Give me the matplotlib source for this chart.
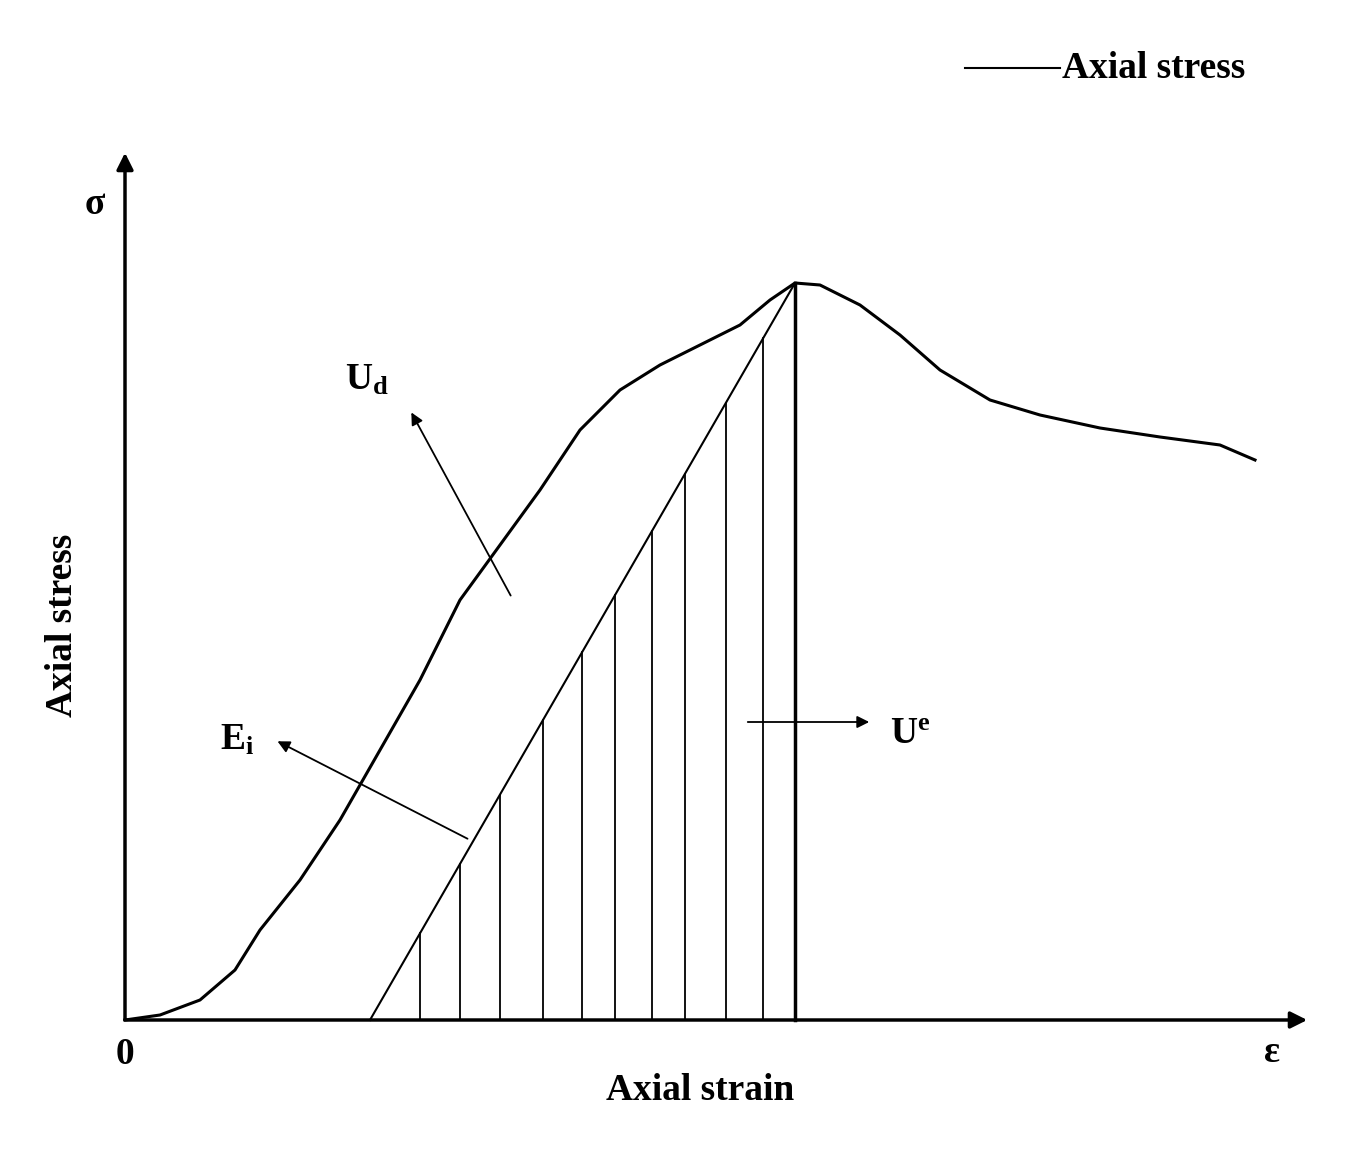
import matplotlib
matplotlib.use("Agg")
import matplotlib.pyplot as plt

curve_x = [125,160,200,235,260,300,340,380,420,460,500,540,580,620,660,700,740,770,795,820,860,900,940,990,1040,1100,1160,1220,1255]
curve_py = [1020,1015,1000,970,930,880,820,750,680,600,545,490,430,390,365,345,325,300,283,285,305,335,370,400,415,428,437,445,460]
hatch_x = [420,460,500,543,582,615,652,685,726,763]
unload_start, peak_x = 370, 795
base = 1020

plt.rcParams['font.family'] = ['Liberation Serif', 'DejaVu Serif']
plt.rcParams['mathtext.fontset'] = 'custom'
plt.rcParams['mathtext.rm'] = 'Liberation Serif'
plt.rcParams['mathtext.bf'] = 'Liberation Serif:bold'
plt.rcParams['mathtext.it'] = 'Liberation Serif:italic'
plt.rcParams['lines.solid_joinstyle'] = 'round'

fig = plt.figure(figsize=(13.46, 11.53), dpi=100)
ax = fig.add_axes([0, 0, 1, 1])
ax.set_xlim(0, 1346); ax.set_ylim(base - 1153, base)
ax.axis('off')

cy = [base - p for p in curve_py]
ax.plot(curve_x, cy, color='black', lw=2.2)
peak_y = cy[curve_x.index(peak_x)]
ax.plot([unload_start, peak_x], [0, peak_y], color='black', lw=1.5)
slope = peak_y / (peak_x - unload_start)
for hx in hatch_x:
    ax.plot([hx, hx], [0, slope * (hx - unload_start)], color='black', lw=1.3)
ax.plot([peak_x, peak_x], [0, peak_y], color='black', lw=2.5)

ax.annotate('', xy=(1310, 0), xytext=(122, 0),
            arrowprops=dict(arrowstyle='-|>', color='black', lw=2.5, mutation_scale=25))
ax.annotate('', xy=(125, base - 150), xytext=(125, -2),
            arrowprops=dict(arrowstyle='-|>', color='black', lw=2.5, mutation_scale=25))

fs = 27
ax.text(95, base - 205, 'σ', fontsize=fs, fontweight='bold', ha='center', va='center')
ax.text(125, base - 1055, '0', fontsize=fs, fontweight='bold', ha='center', va='center')
ax.text(1272, base - 1052, 'ε', fontsize=fs, fontweight='bold', ha='center', va='center')
ax.text(700, base - 1090, 'Axial strain', fontsize=fs, fontweight='bold', ha='center', va='center')
ax.text(62, base - 625, 'Axial stress', fontsize=fs, fontweight='bold', ha='center', va='center', rotation=90)

ax.plot([965, 1060], [base - 68, base - 68], color='black', lw=1.5)
ax.text(1062, base - 68, 'Axial stress', fontsize=fs, fontweight='bold', ha='left', va='center')

ap = dict(arrowstyle='-|>', color='black', lw=1.3, mutation_scale=18)
ax.annotate('', xy=(410, base - 410), xytext=(512, base - 598), arrowprops=ap)
ax.text(345, base - 380, r'$\mathbf{U_d}$', fontsize=fs, ha='left', va='center')
ax.annotate('', xy=(275, base - 740), xytext=(470, base - 840), arrowprops=ap)
ax.text(220, base - 740, r'$\mathbf{E_i}$', fontsize=fs, ha='left', va='center')
ax.annotate('', xy=(872, base - 722), xytext=(745, base - 722), arrowprops=ap)
ax.text(890, base - 735, r'$\mathbf{U^e}$', fontsize=fs, ha='left', va='center')

fig.savefig('out.png', dpi=100)
